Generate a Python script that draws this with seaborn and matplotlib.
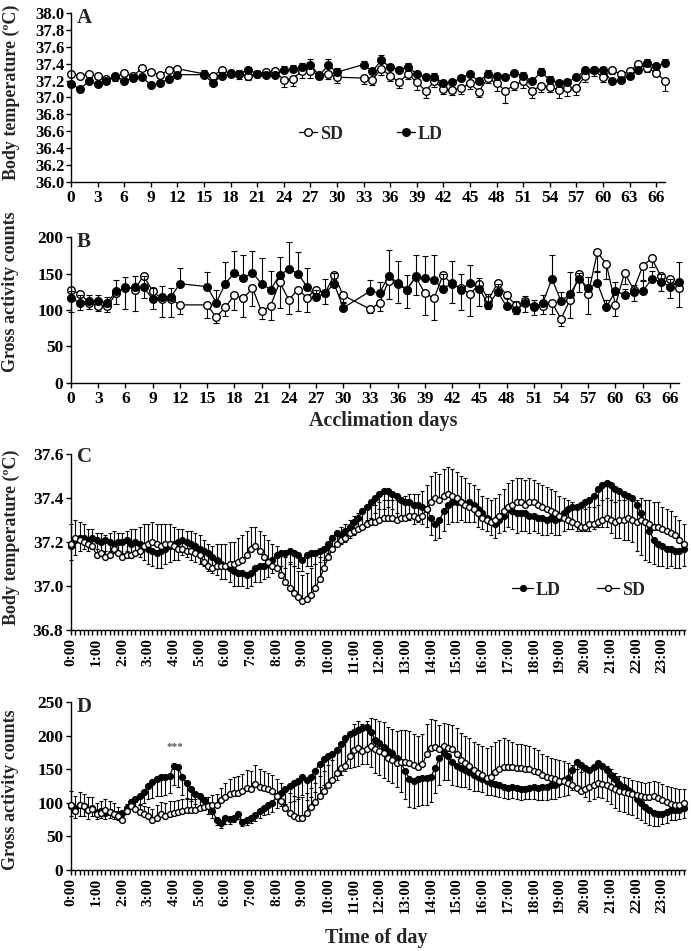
import numpy as np
import matplotlib
matplotlib.use('Agg')
import matplotlib.pyplot as plt
import seaborn as sns

# ---------- Panels A and B: acclimation days ----------
days = list(range(0, 13)) + list(range(15, 31)) + list(range(33, 68))

tb_ld = [37.16, 37.10, 37.19, 37.16, 37.19, 37.25, 37.20, 37.23, 37.24, 37.15, 37.17, 37.22, 37.27,
         37.27, 37.17, 37.26, 37.28, 37.28, 37.33, 37.28, 37.27, 37.27, 37.32, 37.34, 37.36, 37.39, 37.26, 37.38, 37.30,
         37.39, 37.31, 37.44, 37.36, 37.33, 37.36, 37.28, 37.24, 37.24, 37.17, 37.18, 37.23, 37.28, 37.19, 37.28, 37.25,
         37.24, 37.29, 37.26, 37.19, 37.30, 37.21, 37.17, 37.18, 37.24, 37.32, 37.32, 37.33, 37.19, 37.21, 37.26, 37.33,
         37.41, 37.37, 37.41]
tb_ld_err = [.03, .03, .03, .03, .03, .04, .03, .05, .04, .03, .03, .03, .03,
             .05, .03, .04, .05, .04, .03, .03, .03, .03, .05, .05, .05, .06, .04, .07, .05,
             .04, .04, .06, .04, .03, .05, .03, .04, .05, .04, .03, .04, .03, .03, .04, .04,
             .03, .04, .04, .03, .05, .04, .04, .03, .03, .03, .03, .03, .03, .03, .03, .03,
             .04, .03, .04]
tb_sd = [37.28, 37.26, 37.28, 37.25, 37.22, 37.24, 37.29, 37.25, 37.35, 37.30, 37.27, 37.32, 37.34,
         37.28, 37.26, 37.32, 37.29, 37.28, 37.26, 37.28, 37.30, 37.31, 37.21, 37.22, 37.31, 37.31, 37.27, 37.28, 37.24,
         37.23, 37.21, 37.34, 37.26, 37.18, 37.28, 37.18, 37.08, 37.19, 37.10, 37.09, 37.11, 37.17, 37.07, 37.23, 37.17,
         37.08, 37.15, 37.19, 37.08, 37.14, 37.13, 37.09, 37.11, 37.11, 37.26, 37.32, 37.24, 37.32, 37.28, 37.31, 37.40,
         37.35, 37.29, 37.20]
tb_sd_err = [.03, .03, .03, .03, .03, .04, .03, .04, .03, .03, .03, .03, .03,
             .04, .03, .03, .04, .06, .05, .04, .03, .04, .08, .08, .08, .08, .05, .06, .07,
             .07, .06, .07, .06, .07, .06, .09, .09, .07, .06, .06, .07, .07, .06, .06, .09,
             .15, .06, .08, .09, .07, .06, .10, .09, .08, .08, .06, .06, .04, .04, .04, .04,
             .05, .04, .12]

act_ld = [116, 110, 113, 112, 110, 126, 130, 131, 131, 115, 118, 118, 136,
          132, 110, 136, 151, 144, 151, 136, 128, 148, 156, 150, 132, 118, 123, 136, 103,
          126, 123, 147, 137, 128, 146, 144, 141, 129, 137, 128, 137, 129, 107, 125, 105,
          100, 109, 104, 110, 143, 112, 122, 143, 130, 137, 104, 126, 121, 124, 126, 142,
          139, 132, 139]
act_ld_err = [10, 10, 8, 8, 8, 15, 15, 15, 15, 15, 15, 12, 22,
              20, 18, 30, 30, 32, 30, 35, 25, 25, 37, 30, 25, 10, 20, 15, 8,
              15, 15, 35, 30, 20, 30, 30, 34, 20, 30, 22, 25, 15, 15, 10, 12,
              12, 10, 10, 10, 32, 12, 30, 8, 15, 15, 10, 12, 8, 10, 15, 12,
              10, 10, 27]
act_sd = [127, 122, 110, 106, 105, 123, 132, 128, 147, 126, 115, 115, 107,
          107, 90, 104, 120, 116, 130, 98, 106, 138, 114, 128, 117, 128, 123, 148, 120,
          101, 110, 140, 135, 128, 145, 123, 116, 148, 135, 130, 122, 136, 114, 137, 120,
          107, 112, 105, 106, 110, 88, 114, 149, 122, 179, 163, 107, 151, 128, 160, 171,
          146, 142, 130]
act_sd_err = [30, 22, 8, 8, 8, 15, 30, 30, 30, 25, 25, 25, 12,
              18, 8, 12, 20, 25, 25, 10, 20, 35, 20, 30, 20, 12, 15, 10, 10,
              5, 12, 25, 25, 25, 25, 30, 30, 20, 25, 30, 30, 30, 12, 15, 12,
              12, 15, 12, 12, 15, 10, 25, 25, 28, 25, 20, 15, 15, 15, 20, 12,
              20, 25, 26]

# ---------- Panels C and D: time of day, 10-min bins ----------
hour_labels = [f'{h}:00' for h in range(24)]

day_tb_ld = [37.18, 37.21, 37.22, 37.22, 37.21, 37.22, 37.21, 37.20, 37.21, 37.20, 37.19, 37.20,
             37.20, 37.21, 37.19, 37.20, 37.19, 37.18, 37.17, 37.16, 37.15, 37.16, 37.17, 37.18,
             37.19, 37.20, 37.21, 37.20, 37.19, 37.18, 37.17, 37.16, 37.15, 37.13, 37.12, 37.10,
             37.09, 37.08, 37.07, 37.06, 37.06, 37.05, 37.06, 37.08, 37.09, 37.09, 37.10, 37.12,
             37.14, 37.15, 37.15, 37.16, 37.15, 37.14, 37.12, 37.14, 37.15, 37.15, 37.16, 37.17,
             37.19, 37.22, 37.24, 37.23, 37.25, 37.27, 37.29, 37.31, 37.34, 37.36, 37.38, 37.40,
             37.42, 37.43, 37.43, 37.42, 37.41, 37.39, 37.38, 37.38, 37.37, 37.37, 37.36, 37.35,
             37.31, 37.28, 37.30, 37.34, 37.37, 37.38, 37.38, 37.38, 37.37, 37.38, 37.37, 37.35,
             37.33, 37.31, 37.29, 37.28, 37.30, 37.32, 37.35, 37.34, 37.33, 37.33, 37.33, 37.32,
             37.32, 37.31, 37.31, 37.30, 37.31, 37.30, 37.31, 37.33, 37.35, 37.36, 37.36, 37.37,
             37.38, 37.39, 37.41, 37.44, 37.46, 37.47, 37.46, 37.44, 37.43, 37.42, 37.41, 37.40,
             37.37, 37.33, 37.29, 37.25, 37.21, 37.19, 37.18, 37.17, 37.17, 37.16, 37.16, 37.17]
day_tb_ld_err = [.06, .07, .06, .05, .05, .05, .04, .04, .05, .04, .04, .05,
                 .05, .05, .06, .05, .06, .06, .07, .07, .07, .08, .07, .07,
                 .07, .08, .07, .07, .07, .07, .07, .07, .08, .07, .07, .07,
                 .06, .06, .07, .06, .06, .06, .06, .06, .07, .06, .06, .06,
                 .06, .06, .07, .06, .06, .06, .05, .05, .06, .05, .05, .05,
                 .04, .05, .05, .04, .05, .05, .06, .06, .07, .06, .07, .07,
                 .07, .08, .07, .07, .08, .07, .08, .08, .09, .08, .08, .08,
                 .08, .07, .08, .09, .09, .09, .09, .08, .08, .09, .08, .08,
                 .07, .06, .06, .06, .06, .07, .08, .08, .09, .08, .08, .08,
                 .07, .07, .08, .07, .07, .07, .08, .08, .09, .10, .11, .12,
                 .13, .14, .15, .17, .19, .20, .22, .22, .21, .21, .20, .20,
                 .21, .19, .17, .14, .11, .10, .09, .09, .08, .08, .08, .08]
day_tb_sd = [37.19, 37.22, 37.21, 37.20, 37.19, 37.18, 37.14, 37.15, 37.13, 37.14, 37.17, 37.15,
             37.13, 37.14, 37.14, 37.15, 37.16, 37.18, 37.19, 37.20, 37.19, 37.18, 37.19, 37.19,
             37.18, 37.17, 37.17, 37.16, 37.16, 37.15, 37.14, 37.11, 37.09, 37.08, 37.09, 37.09,
             37.09, 37.10, 37.10, 37.11, 37.12, 37.14, 37.17, 37.18, 37.16, 37.13, 37.11, 37.09,
             37.08, 37.05, 37.02, 36.99, 36.97, 36.95, 36.93, 36.94, 36.96, 36.99, 37.03, 37.08,
             37.13, 37.17, 37.19, 37.21, 37.22, 37.24, 37.25, 37.26, 37.27, 37.28, 37.29, 37.29,
             37.30, 37.31, 37.31, 37.31, 37.30, 37.31, 37.31, 37.32, 37.32, 37.31, 37.32, 37.35,
             37.38, 37.40, 37.39, 37.41, 37.42, 37.41, 37.40, 37.38, 37.37, 37.36, 37.35, 37.33,
             37.31, 37.30, 37.29, 37.30, 37.32, 37.34, 37.36, 37.37, 37.38, 37.38, 37.37, 37.38,
             37.38, 37.37, 37.36, 37.35, 37.34, 37.33, 37.32, 37.31, 37.30, 37.29, 37.28, 37.27,
             37.27, 37.28, 37.28, 37.29, 37.30, 37.31, 37.30, 37.29, 37.30, 37.30, 37.31, 37.30,
             37.29, 37.30, 37.29, 37.28, 37.27, 37.27, 37.26, 37.25, 37.24, 37.23, 37.21, 37.19]
day_tb_sd_err = [.09, .08, .08, .08, .07, .08, .10, .09, .10, .10, .08, .09,
                 .11, .11, .12, .11, .11, .10, .09, .09, .09, .10, .09, .09,
                 .09, .09, .09, .09, .09, .09, .09, .10, .10, .10, .10, .10,
                 .10, .10, .10, .11, .11, .11, .10, .09, .09, .10, .10, .10,
                 .10, .11, .11, .12, .12, .12, .12, .12, .12, .11, .10, .08,
                 .07, .06, .06, .06, .06, .06, .07, .07, .07, .07, .08, .08,
                 .08, .08, .08, .08, .09, .09, .10, .10, .10, .11, .11, .11,
                 .12, .12, .12, .12, .12, .12, .12, .12, .12, .11, .11, .11,
                 .10, .10, .10, .10, .10, .10, .11, .11, .11, .11, .11, .11,
                 .10, .10, .10, .10, .10, .10, .09, .09, .09, .09, .09, .09,
                 .08, .08, .08, .08, .09, .09, .09, .09, .09, .09, .10, .10,
                 .10, .10, .10, .11, .11, .11, .10, .10, .10, .09, .09, .09]

day_act_ld = [95, 93, 96, 95, 90, 92, 86, 88, 85, 86, 84, 83,
              85, 92, 101, 105, 110, 116, 125, 131, 136, 138, 138, 140,
              155, 153, 138, 129, 121, 113, 110, 104, 96, 88, 75, 70,
              77, 76, 78, 84, 72, 75, 78, 82, 88, 92, 96, 100,
              110, 115, 120, 125, 129, 133, 139, 134, 138, 148, 158, 165,
              169, 173, 178, 188, 196, 202, 206, 209, 212, 213, 205, 194,
              189, 183, 177, 174, 167, 160, 147, 136, 133, 135, 137, 137,
              139, 152, 166, 174, 170, 160, 155, 152, 149, 146, 142, 139,
              136, 132, 130, 128, 126, 124, 122, 123, 122, 121, 121, 122,
              123, 122, 123, 124, 126, 127, 131, 134, 137, 149, 161, 156,
              152, 149, 154, 159, 155, 149, 142, 135, 128, 124, 119, 114,
              106, 100, 94, 89, 85, 83, 84, 86, 89, 90, 90, 92]
day_act_ld_err = [15, 16, 15, 14, 14, 12, 10, 10, 9, 9, 8, 9,
                  8, 9, 10, 12, 14, 16, 20, 24, 26, 28, 27, 26,
                  28, 30, 26, 22, 18, 15, 15, 14, 12, 10, 8, 7,
                  8, 8, 7, 8, 7, 8, 8, 9, 10, 10, 12, 14,
                  18, 20, 22, 24, 26, 28, 28, 30, 30, 32, 35, 38,
                  40, 42, 44, 46, 48, 50, 52, 54, 55, 55, 52, 50,
                  48, 46, 45, 45, 44, 44, 42, 42, 40, 40, 40, 40,
                  38, 38, 40, 40, 36, 34, 30, 28, 26, 25, 24, 22,
                  20, 20, 19, 18, 18, 17, 16, 16, 17, 17, 16, 16,
                  17, 18, 19, 20, 20, 21, 22, 24, 26, 30, 36, 40,
                  44, 46, 48, 50, 48, 46, 44, 42, 40, 38, 36, 32,
                  28, 26, 24, 22, 20, 18, 16, 16, 15, 15, 14, 14]
day_act_sd = [97, 88, 96, 95, 90, 91, 83, 85, 89, 87, 84, 80,
              75, 88, 95, 91, 87, 83, 80, 75, 78, 83, 80, 84,
              85, 86, 88, 90, 89, 90, 92, 94, 95, 96, 97, 104,
              109, 113, 115, 115, 117, 122, 120, 128, 124, 122, 120, 117,
              110, 102, 92, 85, 80, 78, 78, 85, 94, 101, 110, 118,
              126, 134, 144, 152, 155, 170, 179, 181, 177, 180, 184, 180,
              177, 174, 167, 163, 159, 160, 161, 159, 156, 153, 157, 172,
              181, 183, 180, 184, 182, 180, 173, 164, 159, 155, 149, 145,
              141, 137, 139, 146, 150, 154, 154, 153, 152, 152, 151, 150,
              148, 146, 141, 138, 137, 135, 133, 132, 129, 126, 122, 118,
              120, 124, 127, 129, 128, 127, 124, 120, 117, 116, 115, 113,
              112, 110, 108, 109, 110, 107, 104, 101, 98, 97, 97, 99]
day_act_sd_err = [20, 22, 20, 18, 18, 17, 17, 18, 16, 15, 15, 14,
                  12, 10, 10, 10, 11, 12, 14, 16, 18, 18, 20, 18,
                  18, 18, 17, 16, 16, 15, 15, 14, 14, 15, 16, 18,
                  20, 22, 24, 25, 26, 27, 28, 28, 27, 26, 25, 25,
                  26, 28, 30, 30, 30, 30, 30, 30, 28, 28, 30, 30,
                  30, 30, 32, 34, 35, 36, 38, 40, 40, 42, 42, 44,
                  45, 46, 46, 47, 48, 48, 48, 48, 47, 47, 46, 46,
                  44, 40, 36, 35, 35, 36, 38, 40, 40, 41, 42, 43,
                  44, 45, 45, 45, 44, 42, 40, 38, 36, 35, 35, 34,
                  33, 32, 32, 31, 30, 30, 30, 30, 30, 30, 29, 28,
                  28, 28, 29, 30, 30, 28, 26, 24, 23, 22, 22, 21,
                  20, 21, 22, 22, 23, 24, 24, 24, 25, 25, 24, 22]

W, H = 691, 951
FS_TICK = 12.5
FS_LABEL = 13


def px_axes(left, top, right, bottom):
    """Axes rectangle from pixel edges."""
    return [left / W, 1 - bottom / H, (right - left) / W, (bottom - top) / H]


def draw_series(ax, x, y, err, up, filled, ms, cap, elw, label, z):
    """One series: one-sided error bars and a line with circle markers."""
    zeros = np.zeros(len(err))
    yerr = [zeros, np.array(err)] if up else [np.array(err), zeros]
    ax.errorbar(x, y, yerr=yerr, fmt='none', ecolor='black', elinewidth=elw,
                capsize=cap, capthick=elw, zorder=z, clip_on=False)
    sns.lineplot(x=x, y=y, ax=ax, color='black', linewidth=0.9, marker='o',
                 markersize=ms, markerfacecolor='black' if filled else 'white',
                 markeredgecolor='black', markeredgewidth=1.0, label=label,
                 estimator=None, sort=False, zorder=z + 0.5, clip_on=False)


def style_axes(ax):
    sns.despine(ax=ax)
    for s in ['left', 'bottom']:
        ax.spines[s].set_linewidth(1.0)
    ax.tick_params(which='both', direction='out', length=3.5, width=1.0,
                   labelsize=FS_TICK, pad=2)
    ax.set_xlabel('')
    ax.set_ylabel('')


sns.set_style('ticks', {'axes.edgecolor': 'black', 'xtick.color': 'black',
                        'ytick.color': 'black'})
plt.rcParams['font.family'] = ['Liberation Serif', 'DejaVu Serif']
plt.rcParams['font.weight'] = 'bold'

fig = plt.figure(figsize=(W / 100, H / 100), dpi=100)

# A
axA = fig.add_axes(px_axes(71, 13, 665, 182))
draw_series(axA, days, tb_sd, tb_sd_err, False, False, 5.5, 2, 0.8, 'SD', 2)
draw_series(axA, days, tb_ld, tb_ld_err, True, True, 5.5, 2, 0.8, 'LD', 3)
axA.set_xlim(0, 67)
axA.set_ylim(36.0, 38.0)
axA.set_xticks(range(0, 67, 3))
axA.set_yticks(np.arange(36.0, 38.01, 0.2))
axA.set_yticklabels([f'{v:.1f}' for v in np.arange(36.0, 38.01, 0.2)])
style_axes(axA)
axA.tick_params(axis='y', labelsize=12, pad=1)
axA.legend(loc='center', bbox_to_anchor=(0.505, 0.284), ncol=2, frameon=False,
           fontsize=FS_LABEL, handlelength=1.0, handletextpad=0.15,
           columnspacing=3.0)

# B
axB = fig.add_axes(px_axes(71, 237, 679, 383))
draw_series(axB, days, act_sd, act_sd_err, False, False, 5.5, 2, 0.8, None, 2)
draw_series(axB, days, act_ld, act_ld_err, True, True, 5.5, 2, 0.8, None, 3)
axB.set_xlim(0, 67)
axB.set_ylim(0, 200)
axB.set_xticks(range(0, 67, 3))
axB.set_yticks(range(0, 201, 50))
style_axes(axB)
fig.text(383 / W, 1 - 421 / H, 'Acclimation days', ha='center', va='center',
         fontsize=14.5)

# C
bins = np.arange(144)
axC = fig.add_axes(px_axes(71, 454, 685, 630))
draw_series(axC, bins, day_tb_ld, day_tb_ld_err, False, True, 4.2, 1.5, 0.8, 'LD', 2)
draw_series(axC, bins, day_tb_sd, day_tb_sd_err, True, False, 4.2, 1.5, 0.8, 'SD', 3)
axC.set_xlim(0, 143.3)
axC.set_ylim(36.8, 37.6)
axC.set_yticks(np.arange(36.8, 37.61, 0.2))
axC.set_yticklabels([f'{v:.1f}' for v in np.arange(36.8, 37.61, 0.2)])
axC.set_xticks(range(0, 144, 6))
axC.set_xticks(range(144), minor=True)
axC.set_xticklabels(hour_labels, rotation=90)
style_axes(axC)
axC.tick_params(axis='x', which='both', labelsize=11, pad=2)
axC.legend(loc='center', bbox_to_anchor=(0.826, 0.227), ncol=2, frameon=False,
           fontsize=FS_LABEL, handlelength=1.2, handletextpad=0.15,
           columnspacing=2.0)

# D
axD = fig.add_axes(px_axes(71, 702, 685, 870))
draw_series(axD, bins, day_act_ld, day_act_ld_err, False, True, 4.2, 1.5, 0.8, None, 2)
draw_series(axD, bins, day_act_sd, day_act_sd_err, True, False, 4.2, 1.5, 0.8, None, 3)
axD.set_xlim(0, 143.3)
axD.set_ylim(0, 250)
axD.set_yticks(range(0, 251, 50))
axD.set_xticks(range(0, 144, 6))
axD.set_xticks(range(144), minor=True)
axD.set_xticklabels(hour_labels, rotation=90)
style_axes(axD)
axD.tick_params(axis='x', which='both', labelsize=11, pad=2)
axD.text(24.3, 182, '***', ha='center', va='center', fontsize=8, color='#555555')
fig.text(376 / W, 1 - 938 / H, 'Time of day', ha='center', va='center',
         fontsize=14.5)

# y labels and panel letters
for yc, txt in [(92, 'Body temperature (ºC)'), (292, 'Gross activity counts'),
                (537, 'Body temperature (ºC)'), (790, 'Gross activity counts')]:
    fig.text(11 / W, 1 - yc / H, txt, rotation=90, ha='center', va='center',
             fontsize=FS_LABEL)
for yt, letter in [(8, 'A'), (232, 'B'), (447, 'C'), (697, 'D')]:
    fig.text(77 / W, 1 - yt / H, letter, ha='left', va='top', fontsize=15)

fig.savefig('out.png', dpi=100)
